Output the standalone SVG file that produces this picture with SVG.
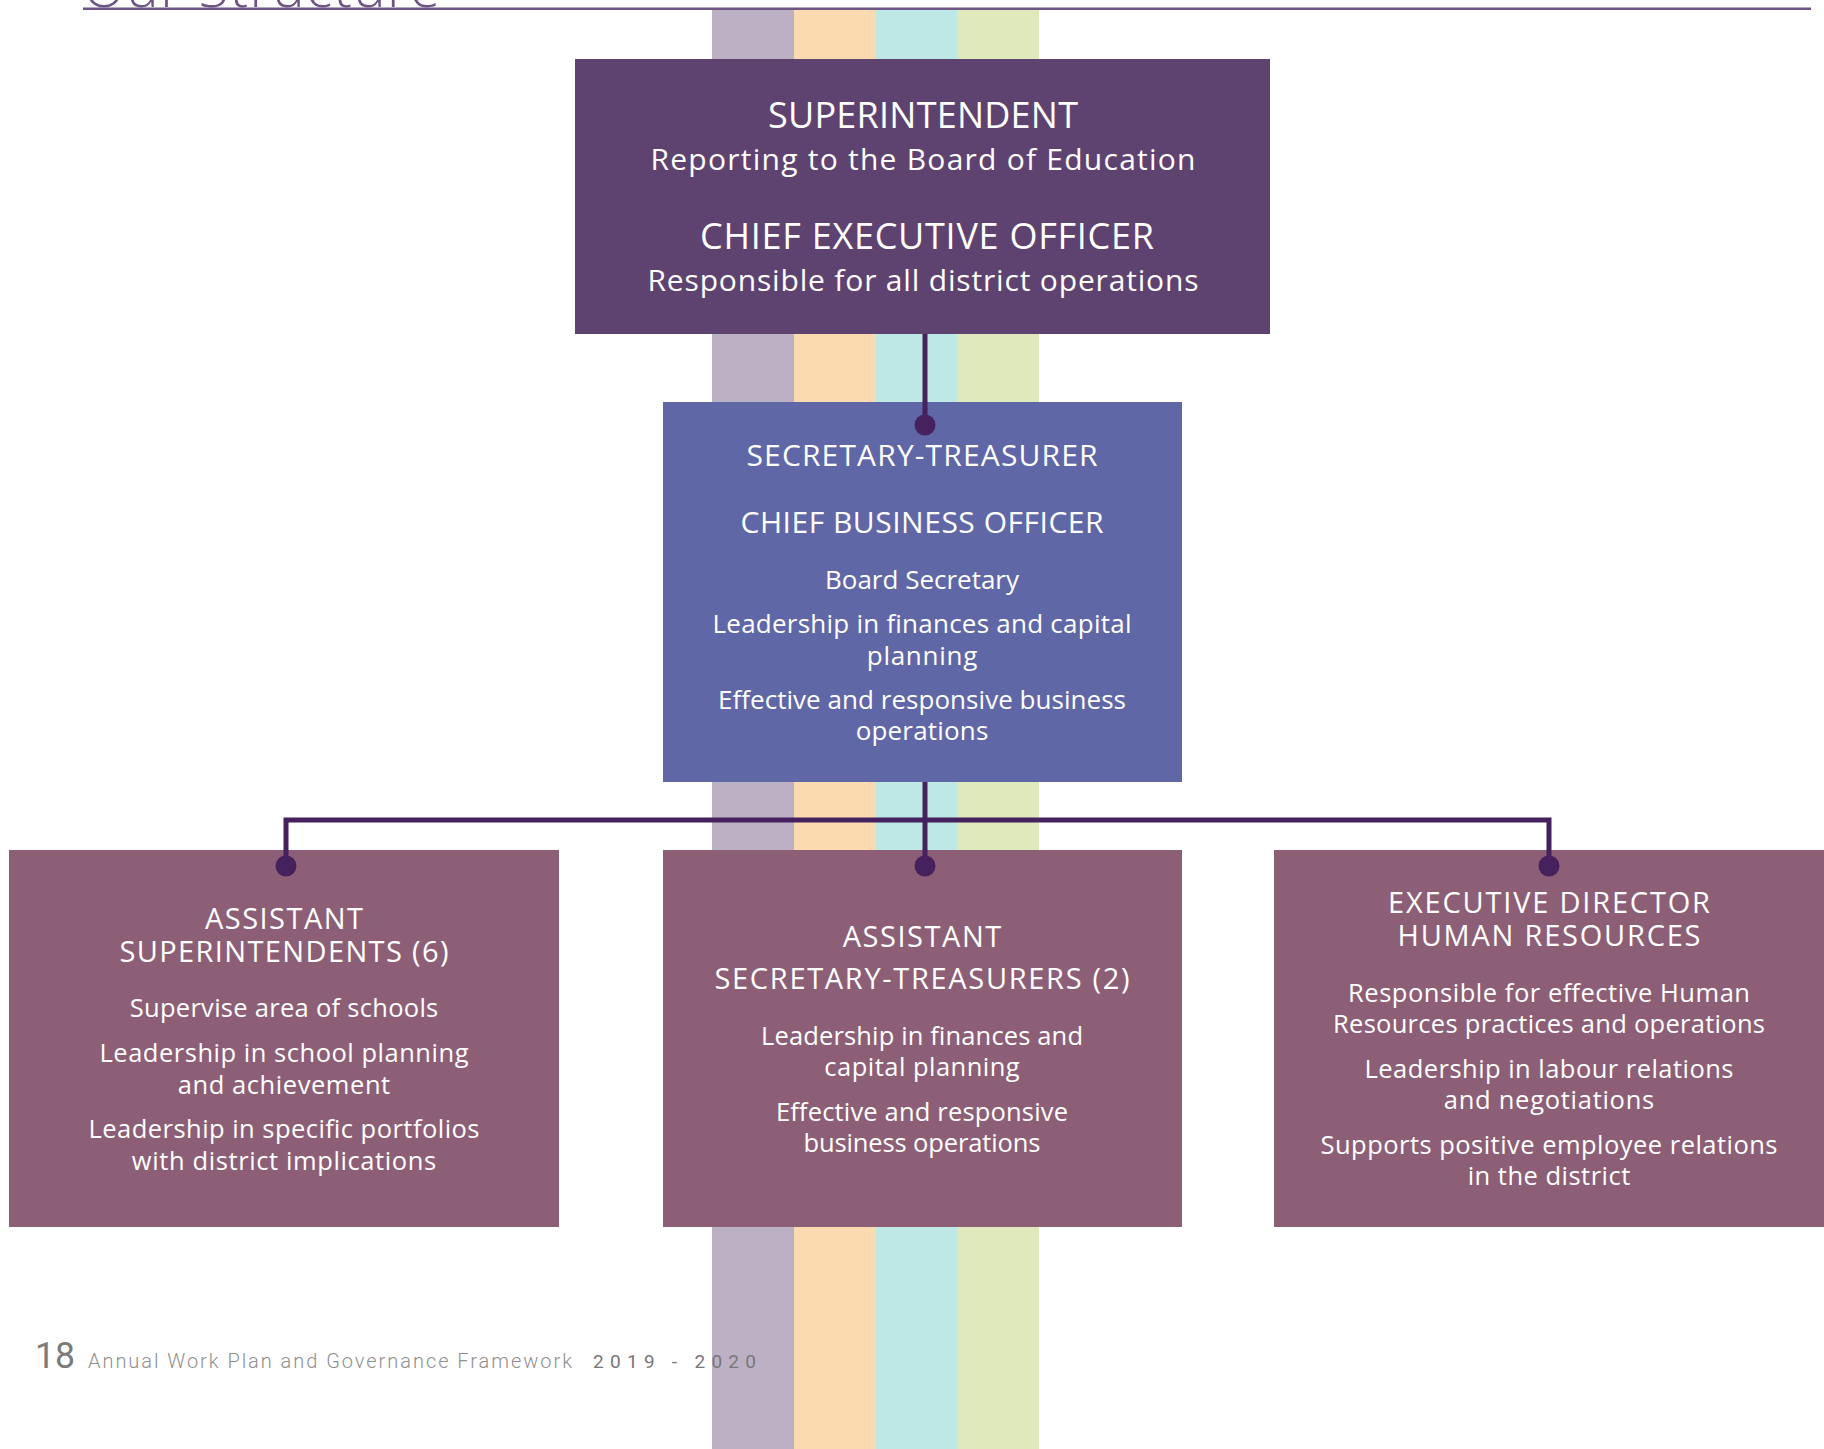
<svg xmlns="http://www.w3.org/2000/svg" width="1824" height="1449" viewBox="0 0 1824 1449">
<defs>
<style>
.t{font-family:"Open Sans","Noto Sans","DejaVu Sans",sans-serif;fill:#ffffff;text-anchor:middle}
.h1{font-size:36px}
.s1{font-size:30px}
.h2{font-size:30px}
.s2{font-size:26px}
.h3{font-size:29px}
.s3{font-size:25.5px}
.conn{fill:none;stroke:#45215e;stroke-width:5;stroke-linecap:butt;stroke-linejoin:miter}
.dot{fill:#45215e}
.foot{font-family:"Roboto","Liberation Sans",sans-serif}
</style>
</defs>
<rect width="1824" height="1449" fill="#ffffff"/>
<g id="stripes">
<rect x="712" y="10" width="82" height="1439" fill="#bcb0c5"/>
<rect x="794" y="10" width="82" height="1439" fill="#fadaae"/>
<rect x="876" y="10" width="81" height="1439" fill="#bde8e6"/>
<rect x="957" y="10" width="82" height="1439" fill="#dfe9bb"/>
</g>
<g id="title">
<text x="83" y="7" font-family="'Open Sans','Noto Sans',sans-serif" font-weight="300" font-size="55" fill="#6d5585" textLength="357" lengthAdjust="spacing">Our Structure</text>
<rect x="83" y="7.5" width="1728" height="2.5" fill="#6d5585"/>
</g>
<g id="node-superintendent">
<rect x="575" y="59" width="695" height="275" fill="#5e4370"/>
<text class="t h1" x="923" y="128" textLength="310" lengthAdjust="spacing">SUPERINTENDENT</text>
<text class="t s1" x="923" y="170" textLength="545" lengthAdjust="spacing">Reporting to the Board of Education</text>
<text class="t h1" x="927" y="249" textLength="454" lengthAdjust="spacing">CHIEF EXECUTIVE OFFICER</text>
<text class="t s1" x="923" y="291" textLength="551" lengthAdjust="spacing">Responsible for all district operations</text>
</g>
<g id="node-secretary-treasurer">
<rect x="663" y="402" width="519" height="380" fill="#6067a6"/>
<text class="t h2" x="922" y="466" textLength="351" lengthAdjust="spacing">SECRETARY-TREASURER</text>
<text class="t h2" x="922" y="533" textLength="363" lengthAdjust="spacing">CHIEF BUSINESS OFFICER</text>
<text class="t s2" x="922" y="589" textLength="194" lengthAdjust="spacing">Board Secretary</text>
<text class="t s2" x="922" y="633" textLength="419" lengthAdjust="spacing">Leadership in finances and capital</text>
<text class="t s2" x="922" y="664.5" textLength="110.5" lengthAdjust="spacing">planning</text>
<text class="t s2" x="922" y="709" textLength="408" lengthAdjust="spacing">Effective and responsive business</text>
<text class="t s2" x="922" y="740" textLength="132.6" lengthAdjust="spacing">operations</text>
</g>
<g id="node-assistant-superintendents">
<rect x="9" y="850" width="550" height="377" fill="#8c5f76"/>
<text class="t h3" x="284" y="929" textLength="158" lengthAdjust="spacing">ASSISTANT</text>
<text class="t h3" x="284" y="962" textLength="329" lengthAdjust="spacing">SUPERINTENDENTS (6)</text>
<text class="t s3" x="284" y="1017" textLength="308.5" lengthAdjust="spacing">Supervise area of schools</text>
<text class="t s3" x="284" y="1062" textLength="369" lengthAdjust="spacing">Leadership in school planning</text>
<text class="t s3" x="284" y="1093.5" textLength="212.4" lengthAdjust="spacing">and achievement</text>
<text class="t s3" x="284" y="1138" textLength="391" lengthAdjust="spacing">Leadership in specific portfolios</text>
<text class="t s3" x="284" y="1169.5" textLength="304.3" lengthAdjust="spacing">with district implications</text>
</g>
<g id="node-assistant-secretary-treasurers">
<rect x="663" y="850" width="519" height="377" fill="#8c5f76"/>
<text class="t h3" x="922" y="947" textLength="158.6" lengthAdjust="spacing">ASSISTANT</text>
<text class="t h3" x="922" y="989" textLength="415" lengthAdjust="spacing">SECRETARY-TREASURERS (2)</text>
<text class="t s3" x="922" y="1045" textLength="322" lengthAdjust="spacing">Leadership in finances and</text>
<text class="t s3" x="922" y="1076" textLength="195.4" lengthAdjust="spacing">capital planning</text>
<text class="t s3" x="922" y="1121" textLength="292" lengthAdjust="spacing">Effective and responsive</text>
<text class="t s3" x="922" y="1152" textLength="237" lengthAdjust="spacing">business operations</text>
</g>
<g id="node-executive-director-hr">
<rect x="1274" y="850" width="550" height="377" fill="#8c5f76"/>
<text class="t h3" x="1549" y="913" textLength="322" lengthAdjust="spacing">EXECUTIVE DIRECTOR</text>
<text class="t h3" x="1549" y="946" textLength="303" lengthAdjust="spacing">HUMAN RESOURCES</text>
<text class="t s3" x="1549" y="1002" textLength="402" lengthAdjust="spacing">Responsible for effective Human</text>
<text class="t s3" x="1549" y="1033" textLength="432" lengthAdjust="spacing">Resources practices and operations</text>
<text class="t s3" x="1549" y="1078" textLength="369" lengthAdjust="spacing">Leadership in labour relations</text>
<text class="t s3" x="1549" y="1109" textLength="210.4" lengthAdjust="spacing">and negotiations</text>
<text class="t s3" x="1549" y="1154" textLength="457" lengthAdjust="spacing">Supports positive employee relations</text>
<text class="t s3" x="1549" y="1185" textLength="162.6" lengthAdjust="spacing">in the district</text>
</g>
<g id="connectors">
<path class="conn" d="M925 334 V425"/>
<circle class="dot" cx="925" cy="425" r="10.5"/>
<path class="conn" d="M925 782 V866"/>
<path class="conn" d="M286 866 V820 H1549 V866"/>
<circle class="dot" cx="286" cy="866" r="10.5"/>
<circle class="dot" cx="925" cy="866" r="10.5"/>
<circle class="dot" cx="1549" cy="866" r="10.5"/>
</g>
<g id="footer">
<text class="foot" x="35" y="1368" font-size="36" fill="#7b7b7b" textLength="40" lengthAdjust="spacingAndGlyphs">18</text>
<text class="foot" x="88" y="1368" font-size="20" font-weight="300" fill="#8f8f8f" textLength="484" lengthAdjust="spacing">Annual Work Plan and Governance Framework</text>
<text class="foot" x="593" y="1368" font-size="19" fill="#777777" textLength="163" lengthAdjust="spacing">2019 - 2020</text>
</g>
</svg>
